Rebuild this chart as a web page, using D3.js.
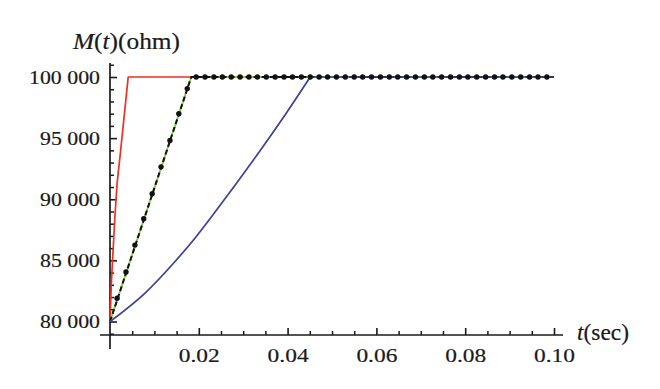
<!DOCTYPE html>
<html>
<head>
<meta charset="utf-8">
<script src="https://cdn.jsdelivr.net/npm/d3@7"></script>
<style>
  html, body { margin: 0; padding: 0; background: #fff; }
  svg { display: block; }
</style>
</head>
<body>
<div id="chart"></div>
<script>
// values
const redT = [0, 0.0003, 0.0007, 0.0011, 0.0016, 0.0024, 0.0041, 0.1];
const redM = [80000, 83100, 85850, 88550, 91300, 94000, 100000, 100000];

const greenT = [0, 0.0183, 0.1];
const greenM = [80000, 100000, 100000];

const blueT = [0, 0.0079, 0.0146, 0.0188, 0.0240, 0.0323, 0.0398, 0.0451];
const blueM = [80000, 82330, 84890, 86670, 89120, 93210, 97100, 100000];
const blueFlatT = [0.0451, 0.1];
const blueFlatM = [100000, 100000];

const dotT = [0.0016, 0.0036, 0.0056, 0.0076, 0.0095, 0.0115, 0.0135, 0.0155, 0.0174,
  0.0194, 0.0214, 0.0234, 0.0253, 0.0273, 0.0293, 0.0313, 0.0332, 0.0352, 0.0372,
  0.0392, 0.0411, 0.0431, 0.0451, 0.0471, 0.0490, 0.0510, 0.0530, 0.0550, 0.0569,
  0.0589, 0.0609, 0.0629, 0.0648, 0.0668, 0.0688, 0.0708, 0.0727, 0.0747, 0.0767,
  0.0787, 0.0806, 0.0826, 0.0846, 0.0866, 0.0885, 0.0905, 0.0925, 0.0945, 0.0964, 0.0984];
const dotM = [81900, 84050, 86250, 88400, 90450, 92650, 94800, 97000, 99050,
  100000, 100000, 100000, 100000, 100000, 100000, 100000, 100000, 100000, 100000,
  100000, 100000, 100000, 100000, 100000, 100000, 100000, 100000, 100000, 100000,
  100000, 100000, 100000, 100000, 100000, 100000, 100000, 100000, 100000, 100000,
  100000, 100000, 100000, 100000, 100000, 100000, 100000, 100000, 100000, 100000, 100000];

const xMajor = [0.02, 0.04, 0.06, 0.08, 0.10];
const xMinor = [0.005, 0.01, 0.015, 0.025, 0.03, 0.035, 0.045, 0.05, 0.055, 0.065, 0.07, 0.075, 0.085, 0.09, 0.095];
const xLabels = ["0.02", "0.04", "0.06", "0.08", "0.10"];
const yMajor = [80000, 85000, 90000, 95000, 100000];
const yLabels = ["80 000", "85 000", "90 000", "95 000", "100 000"];

const width = 660;
const height = 389;

const x = d3.scaleLinear().domain([0, 0.1]).range([110, 554]);
const y = d3.scaleLinear().domain([80000, 100000]).range([321.5, 77]);

const svg = d3.select("#chart").append("svg")
  .attr("width", width)
  .attr("height", height)
  .attr("viewBox", [0, 0, width, height])
  .style("font-family", "'Liberation Serif', 'DejaVu Serif', serif");

const axisY = 335;   // x axis sits at about 79 000
const axisX = x(0);
const ink = "#1a1a1a";

// minor y ticks every 1000
const yMinor = d3.range(79000, 101001, 1000).filter(v => v % 5000 !== 0);

svg.append("g")
  .attr("transform", `translate(${axisX},0)`)
  .call(d3.axisLeft(y).tickValues(yMinor).tickSize(-4).tickFormat(""))
  .call(g => g.select(".domain").remove())
  .call(g => g.selectAll("line").attr("stroke", ink).attr("stroke-width", 1.5));

svg.append("g")
  .attr("transform", `translate(${axisX},0)`)
  .call(d3.axisLeft(y).tickValues(yMajor).tickSize(-7).tickPadding(10)
    .tickFormat((d, i) => yLabels[i]))
  .call(g => g.select(".domain").remove())
  .call(g => g.selectAll("line").attr("stroke", ink).attr("stroke-width", 1.6))
  .call(g => g.selectAll("text")
    .attr("fill", ink)
    .attr("stroke", ink)
    .attr("stroke-width", 0.2)
    .attr("font-size", 19.5)
    .attr("font-family", "'Liberation Serif', serif")
    .attr("textLength", d => d >= 100000 ? 71 : 60)
    .attr("lengthAdjust", "spacingAndGlyphs"));

// x ticks point up into the plot
svg.append("g")
  .attr("transform", `translate(0,${axisY})`)
  .call(d3.axisBottom(x).tickValues(xMinor).tickSize(-4).tickFormat(""))
  .call(g => g.select(".domain").remove())
  .call(g => g.selectAll("line").attr("stroke", ink).attr("stroke-width", 1.5));

svg.append("g")
  .attr("transform", `translate(0,${axisY})`)
  .call(d3.axisBottom(x).tickValues(xMajor).tickSize(-7).tickPadding(8)
    .tickFormat((d, i) => xLabels[i]))
  .call(g => g.select(".domain").remove())
  .call(g => g.selectAll("line").attr("stroke", ink).attr("stroke-width", 1.6))
  .call(g => g.selectAll("text")
    .attr("fill", ink)
    .attr("stroke", ink)
    .attr("stroke-width", 0.2)
    .attr("font-size", 19.5)
    .attr("dy", "0.95em")
    .attr("font-family", "'Liberation Serif', serif")
    .attr("textLength", 41)
    .attr("lengthAdjust", "spacingAndGlyphs"));

// axis lines
svg.append("line")
  .attr("x1", 100).attr("x2", 563)
  .attr("y1", axisY).attr("y2", axisY)
  .attr("stroke", ink).attr("stroke-width", 1.7);
svg.append("line")
  .attr("x1", axisX).attr("x2", axisX)
  .attr("y1", 63).attr("y2", 349)
  .attr("stroke", ink).attr("stroke-width", 1.7);

// curves
const line = d3.line().x(d => x(d[0])).y(d => y(d[1]));
const smooth = d3.line().x(d => x(d[0])).y(d => y(d[1])).curve(d3.curveMonotoneX);

const plot = svg.append("g").attr("fill", "none").attr("stroke-linejoin", "round");

plot.append("path")
  .attr("d", line(d3.zip(redT, redM)))
  .attr("stroke", "#ee2f24")
  .attr("stroke-width", 1.7);

plot.append("path")
  .attr("d", line(d3.zip(greenT, greenM)))
  .attr("stroke", "#86cf3e")
  .attr("stroke-width", 1.9);

plot.append("path")
  .attr("d", line(d3.zip(greenT, greenM)))
  .attr("stroke", "#111")
  .attr("stroke-width", 2)
  .attr("stroke-dasharray", "5,3");

plot.append("path")
  .attr("d", smooth(d3.zip(blueT, blueM)))
  .attr("stroke", "#3f3f9c")
  .attr("stroke-width", 1.7);
plot.append("path")
  .attr("d", line(d3.zip(blueFlatT, blueFlatM)))
  .attr("stroke", "#3f3f9c")
  .attr("stroke-width", 1.7);

svg.append("g")
  .selectAll("circle")
  .data(d3.zip(dotT, dotM))
  .join("circle")
  .attr("cx", d => x(d[0]))
  .attr("cy", d => y(d[1]))
  .attr("r", 2.7)
  .attr("fill", "#111");

// axis titles
const yTitle = svg.append("text")
  .attr("x", 73).attr("y", 49)
  .attr("font-size", 23.5)
  .attr("fill", ink)
  .attr("stroke", ink)
  .attr("stroke-width", 0.2)
  .attr("textLength", 107)
  .attr("lengthAdjust", "spacingAndGlyphs");
yTitle.append("tspan").attr("font-style", "italic").text("M");
yTitle.append("tspan").text("(");
yTitle.append("tspan").attr("font-style", "italic").text("t");
yTitle.append("tspan").text(")(ohm)");

const xTitle = svg.append("text")
  .attr("x", 577).attr("y", 340)
  .attr("font-size", 23.5)
  .attr("fill", ink)
  .attr("stroke", ink)
  .attr("stroke-width", 0.2)
  .attr("textLength", 52)
  .attr("lengthAdjust", "spacingAndGlyphs");
xTitle.append("tspan").attr("font-style", "italic").text("t");
xTitle.append("tspan").text("(sec)");
</script>
</body>
</html>
